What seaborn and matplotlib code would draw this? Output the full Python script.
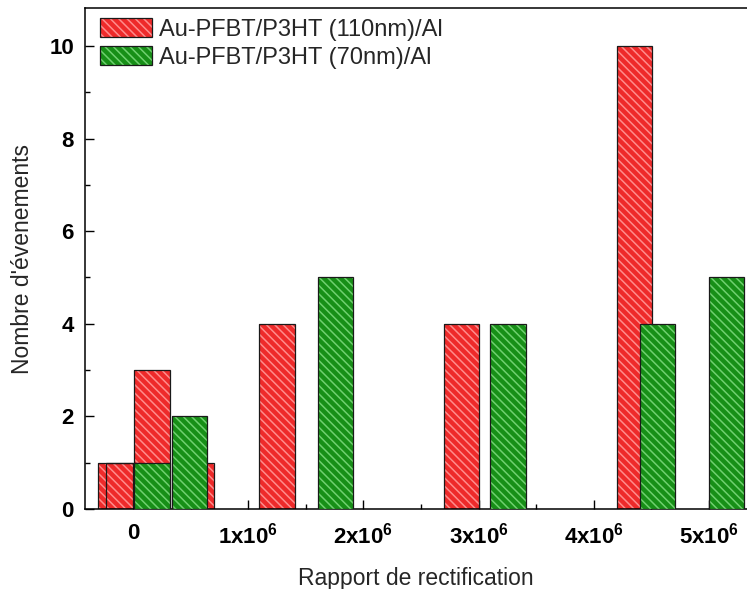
import matplotlib
matplotlib.use("Agg")
from matplotlib import pyplot as plt
from matplotlib.patches import Patch
from matplotlib.legend_handler import HandlerTuple
from matplotlib.ticker import MultipleLocator
import seaborn as sns

# bar centres (x 1e6) and counts
red_x = [-0.15, -0.08, 0.165, 0.55, 1.25, 2.855, 4.355]
red_n = [1, 1, 3, 1, 4, 4, 10]
green_x = [0.165, 0.49, 1.755, 3.255, 4.555, 5.155]
green_n = [1, 2, 5, 4, 4, 5]

labels = ["Au-PFBT/P3HT (110nm)/Al", "Au-PFBT/P3HT (70nm)/Al"]
xtick_vals = [0, 1, 2, 3, 4, 5]
xtick_labels = ["0", r"$\mathbf{1x10^{6}}$", r"$\mathbf{2x10^{6}}$",
                r"$\mathbf{3x10^{6}}$", r"$\mathbf{4x10^{6}}$", r"$\mathbf{5x10^{6}}$"]

BAR_W = 0.305
HATCH = "\\\\\\\\"
EDGE = "#1a1a1a"

sns.set_style("ticks")
plt.rcParams["font.family"] = ["Liberation Sans", "DejaVu Sans"]
plt.rcParams["mathtext.fontset"] = "custom"
plt.rcParams["mathtext.rm"] = "Liberation Sans:bold"
plt.rcParams["mathtext.bf"] = "Liberation Sans:bold"
plt.rcParams["hatch.linewidth"] = 1.1

fig = plt.figure(figsize=(7.47, 5.89), dpi=100)
ax = fig.add_axes([85 / 747, 1 - 509 / 589, 1 - 85 / 747, (509 - 8) / 589])

series = [
    (red_x, red_n, "#ee2a2a", "#ff8c8c", 2),
    (green_x, green_n, "#178f17", "#6fd06f", 4),
]
handles = []
for xs, ns, face, stripe, z in series:
    ax.bar(xs, ns, width=BAR_W, color=face, edgecolor=stripe, hatch=HATCH,
           linewidth=0, zorder=z)
    ax.bar(xs, ns, width=BAR_W, fill=False, edgecolor=EDGE, linewidth=0.9,
           zorder=z + 0.5)
    handles.append((Patch(facecolor=face, edgecolor=stripe, hatch=HATCH, linewidth=0),
                    Patch(fill=False, edgecolor=EDGE, linewidth=0.9)))

ax.set_xlim(-0.417, 5.33)
ax.set_ylim(0, 10.82)
ax.set_xticks(xtick_vals)
ax.set_xticklabels(xtick_labels)
ax.xaxis.set_minor_locator(MultipleLocator(0.5))
ax.set_yticks([0, 2, 4, 6, 8, 10])
ax.yaxis.set_minor_locator(MultipleLocator(1))

ax.tick_params(which="both", direction="in", width=1.0, colors="black")
ax.tick_params(which="major", length=6.5, labelsize=16)
ax.tick_params(which="minor", length=3.6)
ax.tick_params(axis="x", which="major", pad=10)
ax.tick_params(axis="y", which="major", pad=8)
for t in ax.get_xticklabels() + ax.get_yticklabels():
    t.set_fontweight("bold")

for side in ["left", "bottom", "top"]:
    ax.spines[side].set_linewidth(1.1)
    ax.spines[side].set_color("black")
ax.spines["right"].set_visible(False)

ax.set_xlabel("Rapport de rectification", fontsize=16.5, labelpad=13)
ax.set_ylabel("Nombre d'évenements", fontsize=16.5, labelpad=11)

ax.legend(handles, labels, handler_map={tuple: HandlerTuple(ndivide=1)},
          loc="upper left", bbox_to_anchor=(15 / 662, 1 - 10 / 501),
          frameon=False, borderaxespad=0, borderpad=0, fontsize=17,
          handlelength=2.2, handleheight=0.85, handletextpad=0.3,
          labelspacing=0.25)

fig.savefig("out.png", dpi=100)
